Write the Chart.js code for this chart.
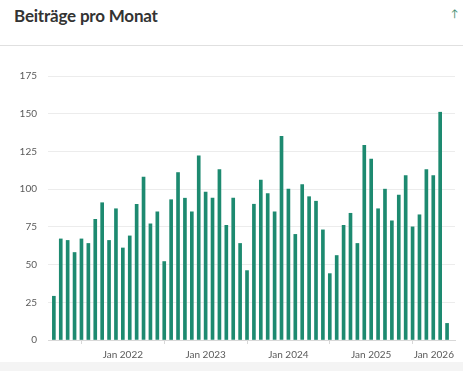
<!DOCTYPE html>
<html lang="de">
<head>
<meta charset="utf-8">
<script src="https://cdn.jsdelivr.net/npm/chart.js@4.4.1/dist/chart.umd.min.js"></script>
<style>
  html, body { margin: 0; padding: 0; background: #fff; }
  body { width: 463px; height: 371px; overflow: hidden; position: relative; font-family: Lato, "Open Sans", sans-serif; }
  .head { height: 45px; border-bottom: 1px solid #e0e0e0; position: relative; }
  .head h2 { margin: 0; position: absolute; left: 14px; top: 5px; font-size: 17px; font-weight: 700; color: #333; letter-spacing: -0.2px; }
  .head .arrow { position: absolute; left: 451px; top: 7px; font-size: 10px; color: #3c8c6e; }
  .chart-box { position: absolute; left: 0; top: 46px; width: 463px; height: 316px; }
  .foot { position: absolute; left: 0; top: 362px; width: 463px; height: 9px; background: #f4f4f4; }
</style>
</head>
<body>
<div class="head">
  <h2>Beiträge pro Monat</h2>
  <span class="arrow">↑</span>
</div>
<div class="chart-box"><canvas id="postsChart"></canvas></div>
<div class="foot"></div>

<script>
// Monate (Mär 2021 - Dez 2025)
const months = [
  '2021-03','2021-04','2021-05','2021-06','2021-07','2021-08','2021-09','2021-10','2021-11','2021-12',
  '2022-01','2022-02','2022-03','2022-04','2022-05','2022-06','2022-07','2022-08','2022-09','2022-10','2022-11','2022-12',
  '2023-01','2023-02','2023-03','2023-04','2023-05','2023-06','2023-07','2023-08','2023-09','2023-10','2023-11','2023-12',
  '2024-01','2024-02','2024-03','2024-04','2024-05','2024-06','2024-07','2024-08','2024-09','2024-10','2024-11','2024-12',
  '2025-01','2025-02','2025-03','2025-04','2025-05','2025-06','2025-07','2025-08','2025-09','2025-10','2025-11','2025-12'
];

// Beiträge pro Monat
const posts = [
  29, 67, 66, 58, 67, 64, 80, 91, 66, 87,
  61, 69, 90, 108, 77, 85, 52, 93, 111, 94, 85, 122,
  98, 94, 113, 76, 94, 64, 46, 90, 106, 97, 85, 135,
  100, 70, 103, 95, 92, 73, 44, 56, 76, 84, 64, 129,
  120, 87, 100, 79, 96, 109, 75, 83, 113, 109, 151, 11
];

// Achsenbeschriftungen
const xTickLabels = ['Jan 2022', 'Jan 2023', 'Jan 2024', 'Jan 2025', 'Jan 2026'];
const yTicks = [0, 25, 50, 75, 100, 125, 150, 175];

// Monat -> Index ab Jan 2021
function monthIndex(m) {
  const [y, mo] = m.split('-').map(Number);
  return (y - 2021) * 12 + (mo - 1);
}
const xTickValues = xTickLabels.map(l => (Number(l.split(' ')[1]) - 2021) * 12);

const barColor = '#1d8a70';
const labelColor = '#5a5a5a';
const labelFont = '10px Lato, "Open Sans", sans-serif';

// x-Beschriftungen selbst zeichnen, damit die letzte nicht abgeschnitten wird
const xLabelPlugin = {
  id: 'xLabels',
  afterDraw(chart) {
    const xs = chart.scales.x;
    const ctx = chart.ctx;
    ctx.save();
    ctx.font = labelFont;
    ctx.fillStyle = labelColor;
    ctx.textBaseline = 'middle';
    xTickValues.forEach((v, i) => {
      const px = xs.getPixelForValue(v);
      const w = ctx.measureText(xTickLabels[i]).width;
      if (px + w / 2 > chart.width - 2) {
        ctx.textAlign = 'right';
      } else {
        ctx.textAlign = 'center';
      }
      ctx.fillText(xTickLabels[i], px, xs.bottom + 11);
    });
    ctx.restore();
  }
};

document.addEventListener('DOMContentLoaded', function() {
  const ctx = document.getElementById('postsChart');
  new Chart(ctx, {
    type: 'bar',
    data: {
      datasets: [{
        label: 'Beiträge',
        data: months.map((m, i) => ({ x: monthIndex(m), y: posts[i] })),
        backgroundColor: barColor,
        borderWidth: 0,
        barThickness: 3
      }]
    },
    options: {
      responsive: true,
      maintainAspectRatio: false,
      animation: false,
      layout: { padding: { top: 30, right: 8, bottom: 18, left: 0 } },
      plugins: {
        legend: { display: false },
        tooltip: { enabled: false }
      },
      scales: {
        x: {
          type: 'linear',
          offset: false,
          min: 1.15,
          max: 60.15,
          afterBuildTicks: function(scale) {
            scale.ticks = xTickValues.map(v => ({ value: v }));
          },
          ticks: { display: false },
          grid: { drawOnChartArea: false, drawTicks: true, tickLength: 4, color: '#d8d8d8' },
          border: { display: true, color: '#d8d8d8' }
        },
        y: {
          min: 0,
          max: 175,
          afterBuildTicks: function(scale) {
            scale.ticks = yTicks.map(v => ({ value: v }));
          },
          afterFit: function(scale) {
            scale.width = 48;
          },
          ticks: {
            padding: 11,
            color: labelColor,
            font: { family: 'Lato, "Open Sans", sans-serif', size: 10 }
          },
          grid: { color: '#ececec', drawTicks: false },
          border: { display: false }
        }
      }
    },
    plugins: [xLabelPlugin]
  });
});
</script>
</body>
</html>
